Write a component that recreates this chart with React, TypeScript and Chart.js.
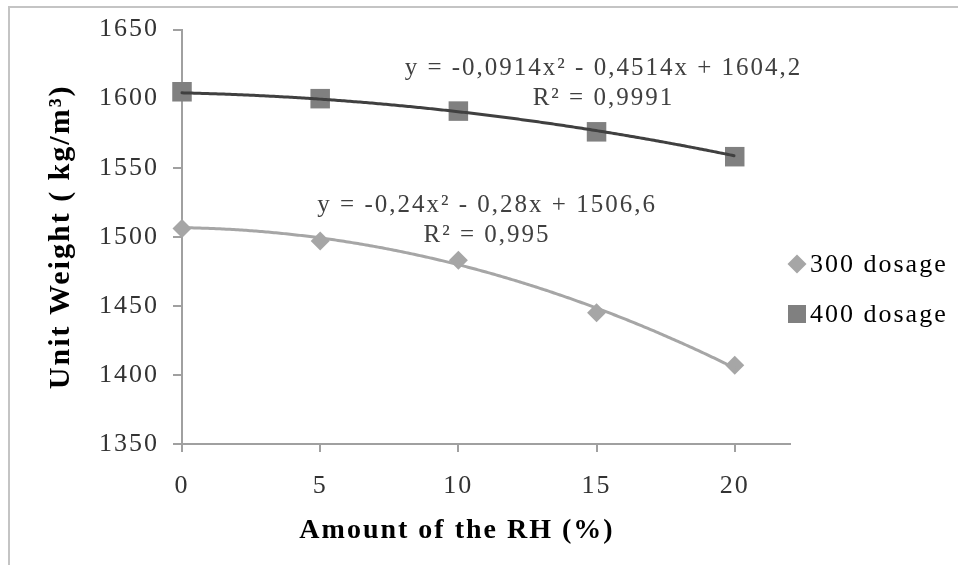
import React, { useEffect, useRef } from 'react';
import { Chart, registerables } from 'chart.js';

Chart.register(...registerables);

// ---- data ----
const rhAmounts = [0, 5, 10, 15, 20];
const dosage300 = [1506, 1497, 1483, 1445, 1407];
const dosage400 = [1605, 1600, 1591, 1576, 1558];
const seriesNames = ['300 dosage', '400 dosage'];
// polynomial trend coefficients [c0, c1, c2] : y = c2*x^2 + c1*x + c0
const trend300 = [1506.6, -0.28, -0.24];
const trend400 = [1604.2, -0.4514, -0.0914];
const trendText300 = ['y = -0,24x² - 0,28x + 1506,6', 'R² = 0,995'];
const trendText400 = ['y = -0,0914x² - 0,4514x + 1604,2', 'R² = 0,9991'];
const xTicks = [0, 5, 10, 15, 20];
const xRange = [0, 22];
const yRange = [1350, 1650];
const yStep = 50;
const xTitle = 'Amount of the RH (%)';
const yTitle = 'Unit Weight ( kg/m³)';

const FONT = '"Liberation Serif", "Times New Roman", serif';
const COLOR_300 = '#a6a6a6';
const COLOR_400_MARK = '#808080';
const COLOR_400_LINE = '#404040';
const AXIS = '#a0a0a0';

const decorPlugin = {
  id: 'decor',
  beforeLayout(chart: any) {
    chart.ctx.letterSpacing = '2px';
  },
  beforeDraw(chart: any) {
    const ctx = chart.ctx;
    ctx.letterSpacing = '2px';
    ctx.save();
    ctx.strokeStyle = '#c4c4c4';
    ctx.lineWidth = 2;
    ctx.strokeRect(9, 7, chart.width + 40, chart.height + 40);
    ctx.restore();
  },
  afterDatasetsDraw(chart: any) {
    const ctx = chart.ctx;
    const xs = chart.scales.x;
    const ys = chart.scales.y;
    const drawTrend = (coef: number[], color: string) => {
      const x0 = rhAmounts[0];
      const x1 = rhAmounts[rhAmounts.length - 1];
      const px0 = xs.getPixelForValue(x0);
      const px1 = xs.getPixelForValue(x1);
      ctx.save();
      ctx.beginPath();
      for (let px = px0; px <= px1 + 0.01; px += 2) {
        const x = xs.getValueForPixel(px);
        const y = coef[0] + coef[1] * x + coef[2] * x * x;
        const py = ys.getPixelForValue(y);
        if (px === px0) ctx.moveTo(px, py);
        else ctx.lineTo(px, py);
      }
      ctx.strokeStyle = color;
      ctx.lineWidth = 3;
      ctx.lineJoin = 'round';
      ctx.lineCap = 'round';
      ctx.stroke();
      ctx.restore();
    };
    drawTrend(trend300, COLOR_300);
    drawTrend(trend400, COLOR_400_LINE);
  },
  afterDraw(chart: any) {
    const ctx = chart.ctx;
    const xs = chart.scales.x;
    const ys = chart.scales.y;
    const area = chart.chartArea;
    ctx.save();
    // trendline equations
    ctx.letterSpacing = '2px';
    ctx.font = `25px ${FONT}`;
    ctx.fillStyle = '#404040';
    ctx.textAlign = 'center';
    ctx.textBaseline = 'middle';
    const eqs: [string[], number, number][] = [
      [trendText400, 15.25, 1622],
      [trendText300, 11.04, 1522.6],
    ];
    eqs.forEach(([lines, vx, vy]) => {
      const cx = xs.getPixelForValue(vx);
      const cy = ys.getPixelForValue(vy);
      lines.forEach((t, i) => ctx.fillText(t, cx, cy + i * 30));
    });

    // legend
    const lx = area.right + 7;
    const ly = [264, 314];
    ctx.fillStyle = COLOR_300;
    ctx.beginPath();
    ctx.moveTo(lx - 9.5, ly[0]);
    ctx.lineTo(lx, ly[0] - 9.5);
    ctx.lineTo(lx + 9.5, ly[0]);
    ctx.lineTo(lx, ly[0] + 9.5);
    ctx.closePath();
    ctx.fill();
    ctx.fillStyle = COLOR_400_MARK;
    ctx.fillRect(lx - 9, ly[1] - 9, 18, 18);
    ctx.fillStyle = '#000';
    ctx.textAlign = 'left';
    ctx.font = `26px ${FONT}`;
    ctx.fillText(seriesNames[0], lx + 13, ly[0] + 1);
    ctx.fillText(seriesNames[1], lx + 13, ly[1] + 1);

    // x axis title
    ctx.font = `bold 28px ${FONT}`;
    ctx.letterSpacing = '2px';
    ctx.textAlign = 'center';
    ctx.fillText(xTitle, area.left + 275, 531);
    ctx.restore();
  },
};

export default function App() {
  const ref = useRef<HTMLCanvasElement | null>(null);
  useEffect(() => {
    document.body.style.margin = '0';
    const canvas = ref.current;
    if (!canvas) return;
    const chart = new Chart(canvas, {
      type: 'scatter',
      data: {
        datasets: [
          {
            label: seriesNames[0],
            data: rhAmounts.map((x, i) => ({ x, y: dosage300[i] })),
            pointStyle: 'rectRot',
            pointRadius: 9.5,
            pointBackgroundColor: COLOR_300,
            pointBorderWidth: 0,
            showLine: false,
            clip: false,
          },
          {
            label: seriesNames[1],
            data: rhAmounts.map((x, i) => ({ x, y: dosage400[i] })),
            pointStyle: 'rect',
            pointRadius: 13.8,
            pointBackgroundColor: COLOR_400_MARK,
            pointBorderWidth: 0,
            showLine: false,
            clip: false,
          },
        ],
      },
      options: {
        responsive: false,
        animation: false,
        devicePixelRatio: 1,
        events: [],
        layout: { padding: { left: 0, top: 25, right: 168, bottom: 0 } },
        plugins: {
          legend: { display: false },
          tooltip: { enabled: false },
        },
        scales: {
          x: {
            type: 'linear',
            min: xRange[0],
            max: xRange[1],
            afterBuildTicks: (s: any) => {
              s.ticks = xTicks.map((v) => ({ value: v }));
            },
            afterFit: (s: any) => {
              s.height = 121;
            },
            grid: { drawOnChartArea: false, drawTicks: true, tickLength: 8, color: AXIS, lineWidth: 2 },
            border: { color: AXIS, width: 2 },
            ticks: {
              padding: 19,
              maxRotation: 0,
              color: '#333',
              font: { family: FONT, size: 26 },
              callback: (v: any) => String(v),
            },
          },
          y: {
            min: yRange[0],
            max: yRange[1],
            afterFit: (s: any) => {
              s.width = 182;
            },
            ticks: {
              stepSize: yStep,
              padding: 14,
              color: '#333',
              font: { family: FONT, size: 26 },
              callback: (v: any) => String(v),
            },
            grid: { drawOnChartArea: false, drawTicks: true, tickLength: 9, color: AXIS, lineWidth: 2 },
            border: { color: AXIS, width: 2 },
            title: {
              display: true,
              text: yTitle,
              color: '#000',
              font: { family: FONT, size: 30, weight: 'bold' },
              padding: { top: 43, bottom: 0 },
            },
          },
        },
      },
      plugins: [decorPlugin],
    } as any);
    return () => chart.destroy();
  }, []);
  return (
    <div style={{ width: 958, height: 565 }}>
      <canvas ref={ref} width={958} height={565} style={{ display: 'block' }} />
    </div>
  );
}
